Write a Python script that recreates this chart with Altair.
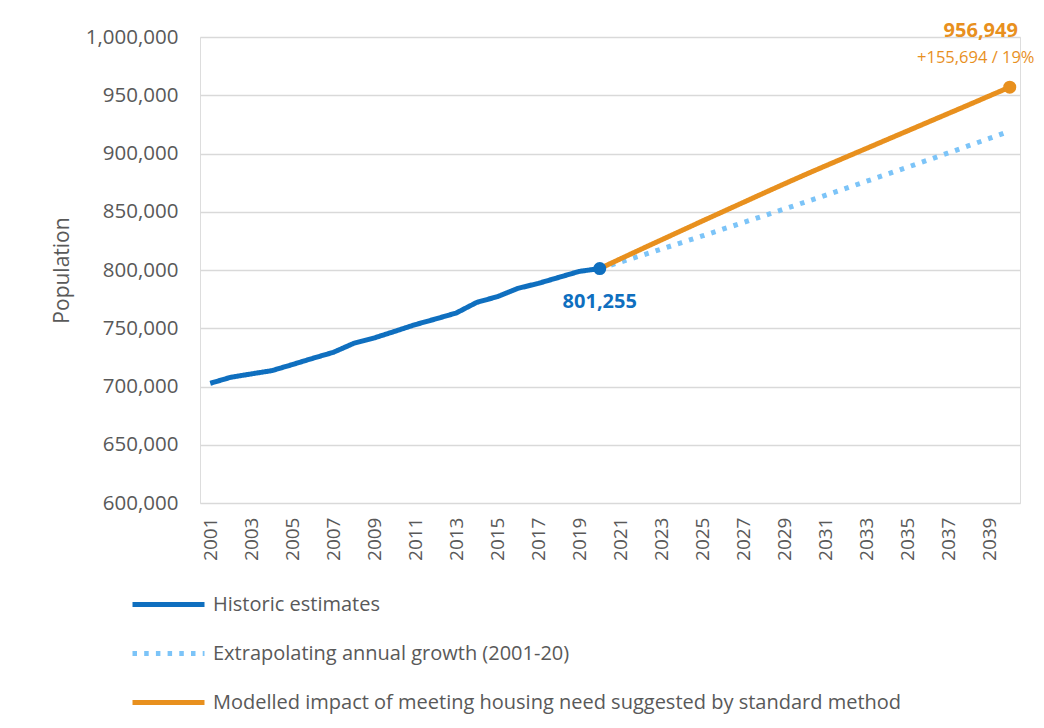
import altair as alt
import pandas as pd

# ---- data ----
hist_years = list(range(2001, 2021))
hist_values = [702750, 707900, 710800, 713600, 718800, 724200, 729300, 737050,
               741700, 747350, 753100, 758000, 763100, 772200, 777100, 784200,
               788500, 793650, 798800, 801255]

proj_years = list(range(2020, 2041))
extrap_values = [801255, 806800, 812300, 817900, 823600, 829200, 835000, 840700,
                 846500, 852300, 858200, 864100, 870100, 876100, 882100, 888200,
                 894300, 900500, 906700, 912900, 919200]
model_values = [801255, 809500, 817700, 825800, 833900, 842000, 850000, 858000,
                866000, 873900, 881700, 889300, 896800, 904300, 911800, 919300,
                926800, 934300, 941800, 949400, 956949]

series_names = ["Historic estimates",
                "Extrapolating annual growth (2001-20)",
                "Modelled impact of meeting housing need suggested by standard method"]
series_colors = ["#0F6FBF", "#7CC4F8", "#E8901E"]
series_dash = [[1, 0], [4.5, 7.2], [1, 0]]

y_ticks = [600000, 650000, 700000, 750000, 800000, 850000, 900000, 950000, 1000000]
x_label_years = list(range(2001, 2041, 2))

ann_years = [2020, 2040, 2040]
ann_values = [801255, 956949, 956949]
ann_labels = ["801,255", "956,949", "+155,694 / 19%"]

# ---- build table ----
rows = []
for y, v in zip(hist_years, hist_values):
    rows.append({"year": y, "value": v, "series": series_names[0]})
for y, v in zip(proj_years, extrap_values):
    rows.append({"year": y, "value": v, "series": series_names[1]})
for y, v in zip(proj_years, model_values):
    rows.append({"year": y, "value": v, "series": series_names[2]})
df = pd.DataFrame(rows)

pts = pd.DataFrame({"year": [2020, 2040], "value": [801255, 956949],
                    "series": [series_names[0], series_names[2]]})

FONT = "Open Sans"
GREY = "#595959"

x_enc = alt.X("year:O", scale=alt.Scale(domain=list(range(2001, 2041))),
              axis=alt.Axis(values=x_label_years, labelAngle=270, ticks=False,
                            domain=False, labelPadding=14, labelFontSize=19,
                            labelColor=GREY, labelFont=FONT, title=None, grid=False))
y_scale = alt.Scale(domain=[600000, 1000000])
y_axis = alt.Axis(values=y_ticks, format=",.0f", ticks=False, domain=False,
                  labelPadding=22, labelFontSize=20.5, labelColor=GREY,
                  labelFont=FONT, title="Population", titleFontSize=21,
                  titleFont=FONT, titleColor=GREY, titleFontWeight="normal",
                  titlePadding=13, gridColor="#D9D9D9", gridWidth=1.5)
y_enc = alt.Y("value:Q", scale=y_scale, axis=y_axis)

color_scale = alt.Scale(domain=series_names, range=series_colors)
dash_scale = alt.Scale(domain=series_names, range=series_dash)

legend = alt.Legend(title=None, orient="none", legendX=-70, legendY=529,
                    direction="vertical", symbolType="stroke", symbolSize=5184,
                    symbolStrokeWidth=5, labelFontSize=20, labelColor=GREY,
                    labelFont=FONT, labelOffset=6, rowPadding=0, labelLimit=900)

lines = alt.Chart(df).mark_line(strokeWidth=5, strokeJoin="round").encode(
    x=x_enc,
    y=y_enc,
    color=alt.Color("series:N", scale=color_scale, legend=legend),
    strokeDash=alt.StrokeDash("series:N", scale=dash_scale, legend=legend),
    order=alt.Order("year:Q"),
)

points = alt.Chart(pts).mark_circle(size=170, opacity=1).encode(
    x=x_enc,
    y=y_enc,
    color=alt.Color("series:N", scale=color_scale, legend=None),
)

ann = pd.DataFrame({"year": ann_years, "value": ann_values, "label": ann_labels})

t1 = alt.Chart(ann.iloc[[0]]).mark_text(fontSize=20, fontWeight="bold", font=FONT,
                                        color="#0F6FBF", dy=33).encode(
    x=x_enc, y=y_enc, text="label:N")
t2 = alt.Chart(ann.iloc[[1]]).mark_text(fontSize=20, fontWeight="bold", font=FONT,
                                        color="#E8901E", dx=-29, dy=-56).encode(
    x=x_enc, y=y_enc, text="label:N")
t3 = alt.Chart(ann.iloc[[2]]).mark_text(fontSize=16.5, font=FONT,
                                        color="#E8901E", dx=-34, dy=-29).encode(
    x=x_enc, y=y_enc, text="label:N")

chart = alt.layer(lines, points, t1, t2, t3).properties(
    width=820, height=466,
    autosize=alt.AutoSizeParams(type="none"),
    padding={"left": 192, "top": 29, "right": 16, "bottom": 217},
).configure_view(strokeWidth=0).configure(background="white")

chart.save("out.html", embed_options={"renderer": "svg", "actions": False})
